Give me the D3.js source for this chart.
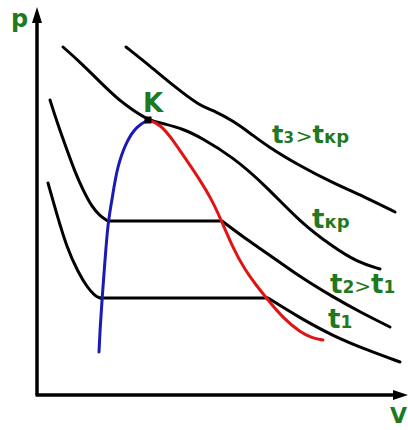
<!DOCTYPE html>
<html><head><meta charset="utf-8">
<script src="https://cdn.jsdelivr.net/npm/d3@7"></script>
<style>body{margin:0;background:#fff}svg{display:block}</style>
</head><body>
<svg id="c" width="408" height="430"></svg>
<script>
// values: [V, p] in arbitrary units (V from y-axis, p from x-axis)
const t3 = [[89,348],[113,329],[138,308],[163,289],[178,284],[196,274],[213,262],[230,249],[263,229],[296,212],[330,197],[358,183]];
const tkr = [[26,348],[43,333],[63,313],[83,294],[96,285],[111,275],[128,271],[146,266],[163,258],[196,238],[230,208],[263,173],[296,148],[320,133],[343,126]];
const t2Left = [[13,295],[21,270],[30,245],[38,223],[46,205],[55,188],[63,179],[71,174]];
const t2Plateau = [[71,174],[185,174]];
const t2Right = [[185,174],[213,153],[230,142],[263,118],[296,98],[323,83],[353,68]];
const t1Left = [[11,212],[20,180],[30,147],[41,123],[50,108],[58,99],[63,97]];
const t1Plateau = [[63,97],[231,97]];
const t1Right = [[231,97],[263,77],[296,59],[330,45],[363,33]];
const liquid = [[62,43],[63,65],[65,95],[68,135],[71,173],[75,195],[80,228],[90,255],[100,269],[111,275]];
const vapour = [[111,275],[123,271],[136,255],[148,237],[163,215],[175,195],[185,173],[196,147],[208,125],[219,110],[231,95],[246,77],[263,63],[275,57],[286,55]];
const critical = [111,275];
const labels = [
  {parts:[["t",24,"bold"],["3",15,"bold"],[" ",6,"normal"],[">",20,"normal"],["t",24,"bold"],["кр",18,"bold"]], at:[235,252]},
  {parts:[["t",26,"bold"],["кр",18,"bold"]], at:[275,167]},
  {parts:[["t",26,"bold"],["2",17,"bold"],[">",20,"normal"],["t",26,"bold"],["1",17,"bold"]], at:[293,102]},
  {parts:[["t",26,"bold"],["1",17,"bold"]], at:[291,67]}
];

const svg = d3.select("#c");
const x = d3.scaleLinear().domain([0,371]).range([37,408]);
const y = d3.scaleLinear().domain([0,388]).range([395,7]);
const green = "#1f7a1f";

const smooth = d3.line().x(d=>x(d[0])).y(d=>y(d[1])).curve(d3.curveBasis);
const straight = d3.line().x(d=>x(d[0])).y(d=>y(d[1]));

// axes
svg.append("line").attr("x1",x(0)).attr("y1",y(0)).attr("x2",x(0)).attr("y2",y(376))
  .attr("stroke","#000").attr("stroke-width",3.5);
svg.append("line").attr("x1",x(0)-1.5).attr("y1",y(0)).attr("x2",x(360)).attr("y2",y(0))
  .attr("stroke","#000").attr("stroke-width",3.5);
svg.append("path").attr("d",`M${x(0)},${y(388)} L${x(0)-5},${y(372)} L${x(0)+5},${y(372)} Z`).attr("fill","#000");
svg.append("path").attr("d",`M${x(371)},${y(0)} L${x(356)},${y(0)-5} L${x(356)},${y(0)+5} Z`).attr("fill","#000");

const black = [t3,tkr,t2Left,t2Right,t1Left,t1Right];
black.forEach(d=>svg.append("path").attr("d",smooth(d)).attr("fill","none")
  .attr("stroke","#000").attr("stroke-width",3).attr("stroke-linecap","round"));
[t2Plateau,t1Plateau].forEach(d=>svg.append("path").attr("d",straight(d)).attr("fill","none")
  .attr("stroke","#000").attr("stroke-width",3));

svg.append("path").attr("d",smooth(liquid)).attr("fill","none").attr("stroke","#1a1ab4").attr("stroke-width",3).attr("stroke-linecap","round");
svg.append("path").attr("d",smooth(vapour)).attr("fill","none").attr("stroke","#e01414").attr("stroke-width",3).attr("stroke-linecap","round");
svg.append("rect").attr("x",x(critical[0])-3.5).attr("y",y(critical[1])-3.5).attr("width",7).attr("height",7).attr("fill","#000");

const font = "'DejaVu Sans', Verdana, sans-serif";
svg.append("text").attr("x",x(critical[0])-5).attr("y",112).attr("font-family",font).attr("font-size",26).attr("font-weight","bold")
  .attr("fill",green).text("K");
svg.append("text").attr("x",11).attr("y",27).attr("font-family",font).attr("font-size",24).attr("font-weight","bold")
  .attr("fill",green).text("p");
svg.append("text").attr("x",390).attr("y",423).attr("font-family",font).attr("font-size",22).attr("font-weight","bold")
  .attr("fill",green).text("V");

labels.forEach(l=>{
  const t = svg.append("text").attr("x",x(l.at[0])).attr("y",y(l.at[1])).attr("font-family",font).attr("fill",green)
    .attr("xml:space","preserve").style("white-space","pre");
  l.parts.forEach(p=>t.append("tspan").attr("font-size",p[1]).attr("font-weight",p[2]).text(p[0]));
});
</script>
</body></html>
